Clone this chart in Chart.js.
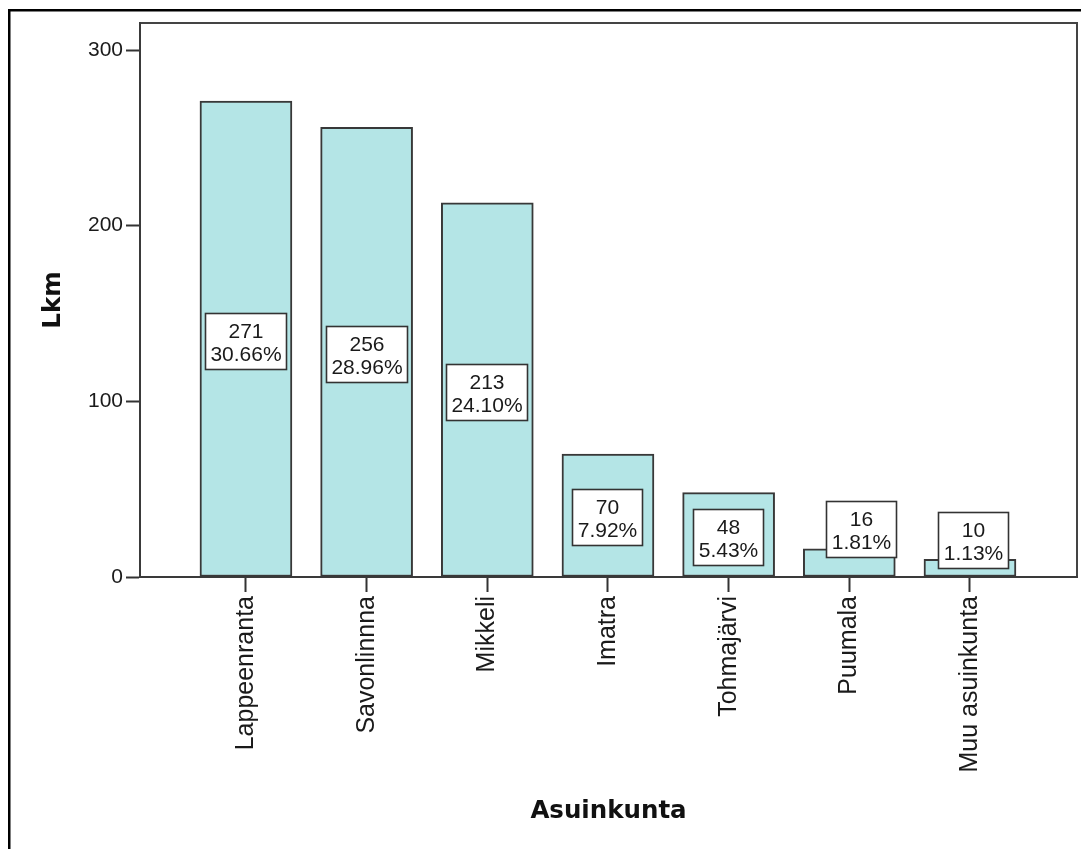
<!DOCTYPE html>
<html>
<head>
<meta charset="utf-8">
<script src="https://cdn.jsdelivr.net/npm/chart.js@4/dist/chart.umd.min.js"></script>
<style>
  html, body { margin: 0; padding: 0; background: #ffffff; }
  #wrap { width: 1081px; height: 849px; }
</style>
</head>
<body>
<div id="wrap"><canvas id="chart" width="1081" height="849"></canvas></div>
<script>
// Residence municipality counts
const categories = ['Lappeenranta', 'Savonlinnna', 'Mikkeli', 'Imatra', 'Tohmajärvi', 'Puumala', 'Muu asuinkunta'];
const counts = [271, 256, 213, 70, 48, 16, 10];
const percentLabels = ['30.66%', '28.96%', '24.10%', '7.92%', '5.43%', '1.81%', '1.13%'];
const yTickValues = [0, 100, 200, 300];

const FONT = "'Liberation Sans', Arial, sans-serif";
const TITLE_FONT = "'DejaVu Sans', Verdana, sans-serif";

// Outer page frame plus the top/right edges of the plot box
const framePlugin = {
  id: 'frame',
  beforeDraw(chart) {
    const { ctx, width, height, chartArea: a } = chart;
    ctx.save();
    ctx.fillStyle = '#ffffff';
    ctx.fillRect(0, 0, width, height);
    ctx.strokeStyle = '#000000';
    ctx.lineWidth = 2.5;
    ctx.beginPath();
    ctx.moveTo(9.25, height);
    ctx.lineTo(9.25, 10.25);
    ctx.lineTo(width, 10.25);
    ctx.stroke();
    ctx.strokeStyle = '#444444';
    ctx.lineWidth = 2;
    ctx.beginPath();
    ctx.moveTo(a.left, a.top);
    ctx.lineTo(a.right, a.top);
    ctx.lineTo(a.right, a.bottom);
    ctx.stroke();
    ctx.restore();
  }
};

// Boxed count + percentage label in the middle of each bar
const valueBoxPlugin = {
  id: 'valueBoxes',
  afterDatasetsDraw(chart, args, opts) {
    const { ctx } = chart;
    const meta = chart.getDatasetMeta(0);
    ctx.save();
    ctx.font = '21px ' + FONT;
    meta.data.forEach((bar, i) => {
      const lines = [String(counts[i]), percentLabels[i]];
      const w = Math.round(Math.max(...lines.map(t => ctx.measureText(t).width)) + 11);
      const h = 57;
      const nudge = (opts.nudges && opts.nudges[i]) || [0, 0];
      const cx = bar.x + nudge[0];
      const cy = (bar.y + bar.base) / 2 + 2.5 + nudge[1];
      const x0 = Math.round(cx - w / 2);
      const y0 = Math.round(cy - h / 2);
      ctx.fillStyle = '#ffffff';
      ctx.fillRect(x0, y0, w, h);
      ctx.strokeStyle = '#333333';
      ctx.lineWidth = 1.6;
      ctx.strokeRect(x0 + 0.5, y0 + 0.5, w - 1, h - 1);
      ctx.fillStyle = '#1a1a1a';
      ctx.textAlign = 'center';
      ctx.textBaseline = 'alphabetic';
      ctx.fillText(lines[0], x0 + w / 2, y0 + 25);
      ctx.fillText(lines[1], x0 + w / 2, y0 + 48);
    });
    ctx.restore();
  }
};

new Chart(document.getElementById('chart'), {
  type: 'bar',
  data: {
    datasets: [{
      data: counts.map((v, i) => ({ x: i, y: v })),
      backgroundColor: '#b4e5e6',
      borderColor: '#383838',
      borderWidth: 2,
      borderSkipped: false,
      barThickness: 92
    }]
  },
  options: {
    responsive: false,
    animation: false,
    devicePixelRatio: 1,
    layout: { padding: { top: 23, right: 4, left: 0, bottom: 0 } },
    plugins: {
      legend: { display: false },
      tooltip: { enabled: false },
      valueBoxes: { nudges: [[0, 0], [0, 0], [0, 0], [0, 0], [0, 0], [12, -35.5], [3.5, -30]] }
    },
    scales: {
      x: {
        type: 'linear',
        offset: false,
        min: -0.878,
        max: 6.887,
        afterBuildTicks: s => { s.ticks = categories.map((_, i) => ({ value: i })); },
        afterFit: s => { s.height = 272; },
        grid: { offset: false, drawOnChartArea: false, drawTicks: true, tickLength: 15, tickWidth: 2, tickColor: '#333333' },
        border: { display: true, color: '#3a3a3a', width: 2 },
        ticks: {
          autoSkip: false,
          maxRotation: 90,
          minRotation: 90,
          padding: 4,
          color: '#1a1a1a',
          font: { family: FONT, size: 25 },
          callback: v => categories[v]
        },
        title: {
          display: true,
          text: 'Asuinkunta',
          color: '#111111',
          font: { family: TITLE_FONT, size: 24.5, weight: 'bold' },
          padding: { top: 0, bottom: 23 }
        }
      },
      y: {
        min: 0,
        max: 315.4,
        afterBuildTicks: s => { s.ticks = yTickValues.map(v => ({ value: v })); },
        afterFit: s => { s.width = 140; },
        grid: { drawOnChartArea: false, drawTicks: true, tickLength: 14, tickWidth: 2, tickColor: '#333333' },
        border: { display: true, color: '#3a3a3a', width: 2 },
        ticks: {
          padding: 3,
          color: '#1a1a1a',
          font: { family: FONT, size: 21 }
        },
        title: {
          display: true,
          text: 'Lkm',
          color: '#111111',
          font: { family: TITLE_FONT, size: 24.5, weight: 'bold' },
          padding: { top: 39, bottom: 0 }
        }
      }
    }
  },
  plugins: [framePlugin, valueBoxPlugin]
});
</script>
</body>
</html>
